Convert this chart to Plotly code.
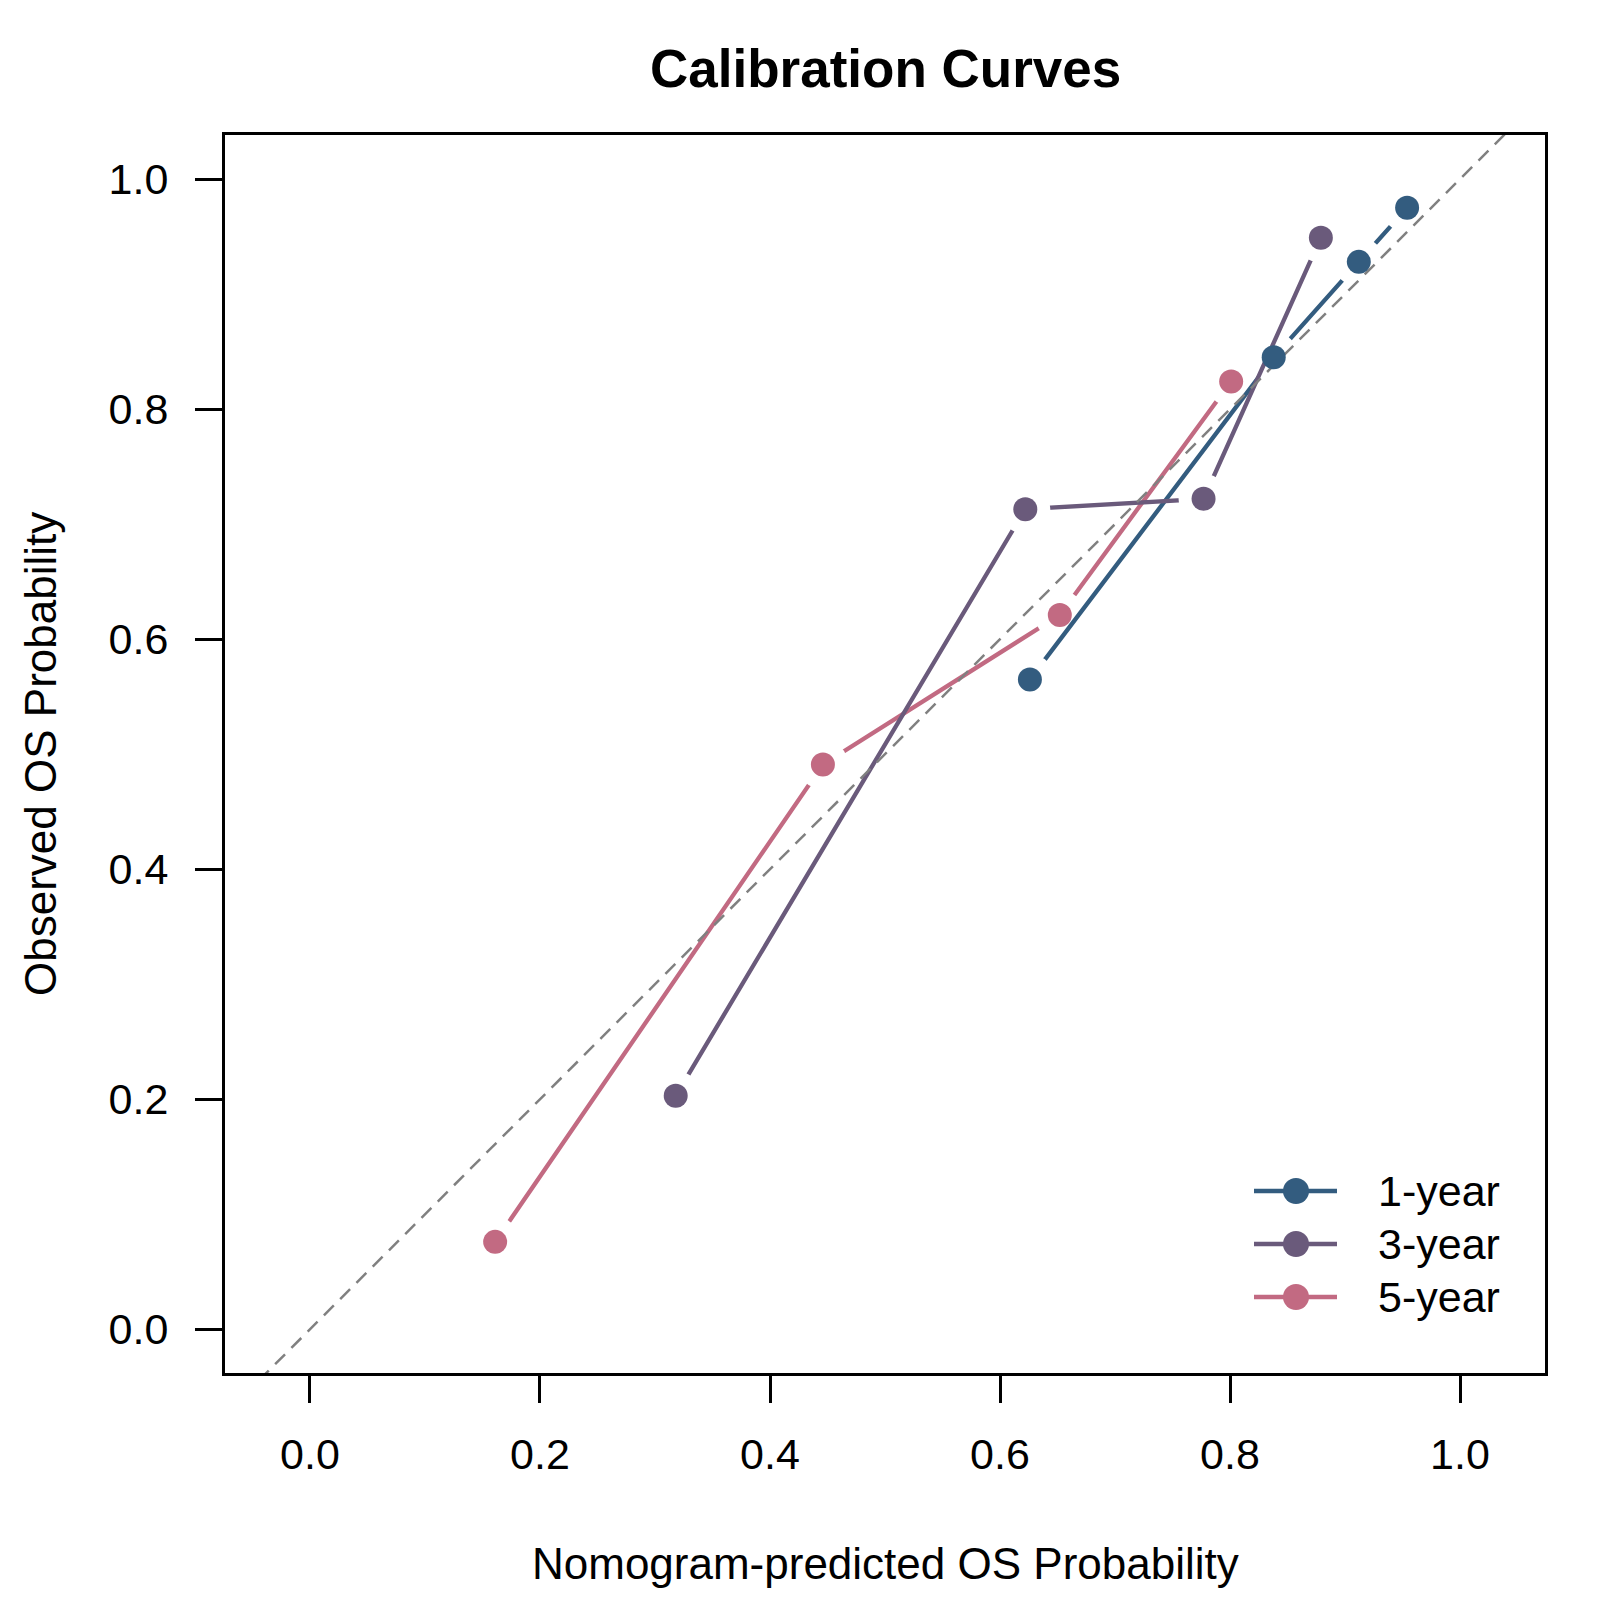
import plotly.graph_objects as go

# ---- data ----
series_names = ["1-year", "3-year", "5-year"]
pred_1y = [0.626, 0.838, 0.912, 0.954]
obs_1y = [0.565, 0.845, 0.928, 0.975]
pred_3y = [0.318, 0.622, 0.777, 0.879]
obs_3y = [0.203, 0.713, 0.722, 0.949]
pred_5y = [0.161, 0.446, 0.652, 0.801]
obs_5y = [0.076, 0.491, 0.621, 0.824]
ref_line = [-0.2, 1.2]
tick_vals = [0.0, 0.2, 0.4, 0.6, 0.8, 1.0]
tick_text = ["0.0", "0.2", "0.4", "0.6", "0.8", "1.0"]

colors = {"1-year": "#335C7F", "3-year": "#6A5A7B", "5-year": "#C26A82"}
data = {
    "1-year": (pred_1y, obs_1y),
    "3-year": (pred_3y, obs_3y),
    "5-year": (pred_5y, obs_5y),
}

FONT = "Liberation Sans, Arial, Helvetica, sans-serif"
W, H = 1600, 1600
ML, MR, MT, MB = 225, 55, 135, 227
PW, PH = W - ML - MR, H - MT - MB

fig = go.Figure()

# lines with gaps around points (R type="b"): line, then white blockers
for name in ["5-year", "1-year", "3-year"]:
    xs, ys = data[name]
    fig.add_trace(go.Scatter(x=xs, y=ys, mode="lines", showlegend=False,
                             line=dict(color=colors[name], width=4.3),
                             hoverinfo="skip"))
    fig.add_trace(go.Scatter(x=xs, y=ys, mode="markers", showlegend=False,
                             marker=dict(color="white", size=50, line=dict(width=0)),
                             hoverinfo="skip"))

# diagonal reference
fig.add_trace(go.Scatter(x=ref_line, y=ref_line, mode="lines", showlegend=False,
                         line=dict(color="#808080", width=2.5, dash="14px,9px"),
                         hoverinfo="skip"))

for name in ["5-year", "1-year", "3-year"]:
    xs, ys = data[name]
    fig.add_trace(go.Scatter(x=xs, y=ys, mode="markers", name=name, showlegend=False,
                             marker=dict(color=colors[name], size=24, line=dict(width=0))))

# manual legend (R style)
def px2paper_x(px):
    return (px - ML) / PW

def px2paper_y(py):
    return (H - MB - py) / PH

leg_rows = [1191, 1244, 1297]
for name, ry in zip(series_names, leg_rows):
    yp = px2paper_y(ry)
    fig.add_shape(type="line", xref="paper", yref="paper",
                  x0=px2paper_x(1254), x1=px2paper_x(1337), y0=yp, y1=yp,
                  line=dict(color=colors[name], width=4.3))
    fig.add_shape(type="circle", xref="paper", yref="paper",
                  xsizemode="pixel", ysizemode="pixel",
                  xanchor=px2paper_x(1296), yanchor=yp,
                  x0=-13, x1=13, y0=-13, y1=13,
                  fillcolor=colors[name], line=dict(width=0))
    fig.add_annotation(xref="paper", yref="paper", x=px2paper_x(1376), y=yp,
                       xanchor="left", yanchor="middle", showarrow=False,
                       text=name, font=dict(family=FONT, size=43, color="black"))

# axis titles
fig.add_annotation(xref="paper", yref="paper", x=0.5, y=px2paper_y(1563),
                   xanchor="center", yanchor="middle", showarrow=False,
                   text="Nomogram-predicted OS Probability",
                   font=dict(family=FONT, size=44, color="black"))
fig.add_annotation(xref="paper", yref="paper", x=px2paper_x(40), y=0.5,
                   xanchor="center", yanchor="middle", showarrow=False, textangle=-90,
                   text="Observed OS Probability",
                   font=dict(family=FONT, size=44, color="black"))
fig.add_annotation(xref="paper", yref="paper", x=0.5, y=px2paper_y(68),
                   xanchor="center", yanchor="middle", showarrow=False,
                   text="<b>Calibration Curves</b>",
                   font=dict(family=FONT, size=53, color="black"))

axis_common = dict(
    showgrid=False, zeroline=False, showline=True, mirror=True,
    linecolor="black", linewidth=3, ticks="outside", ticklen=27, tickwidth=3,
    tickcolor="black", tickvals=tick_vals, ticktext=tick_text,
    tickfont=dict(family=FONT, size=43, color="black"),
)

fig.update_layout(
    width=W, height=H,
    margin=dict(l=ML, r=MR, t=MT, b=MB),
    paper_bgcolor="white", plot_bgcolor="white",
    xaxis=dict(range=[-0.0739, 1.0739], ticklabelstandoff=14, **axis_common),
    yaxis=dict(range=[-0.038, 1.0383], ticklabelstandoff=18, **axis_common),
    showlegend=False,
)

fig.write_html("out.html")
